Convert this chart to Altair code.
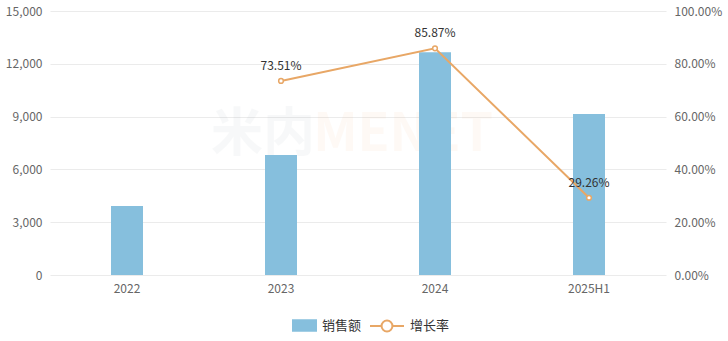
import altair as alt
import pandas as pd

years = ["2022", "2023", "2024", "2025H1"]
sales = [3920, 6820, 12660, 9150]
growth = [None, 0.7351, 0.8587, 0.2926]
growth_labels = ["", "73.51%", "85.87%", "29.26%"]

df = pd.DataFrame({"year": years, "sales": sales, "growth": growth, "glabel": growth_labels})
df["s_name"] = "销售额"
df["g_name"] = "增长率"

FONT = "Noto Sans CJK SC"
BLUE = "#86bfdd"
ORANGE = "#e8a766"

x = alt.X("year:N", sort=years, title=None,
          axis=alt.Axis(labelAngle=0, domain=False, ticks=False, labelPadding=8,
                        domainColor="transparent", gridColor="transparent",
                        labelColor="#666", labelFontSize=12, labelFont=FONT, grid=False))

bars = alt.Chart(df).mark_bar(size=32, color=BLUE).encode(
    x=x,
    y=alt.Y("sales:Q", title=None,
            scale=alt.Scale(domain=[0, 15000], nice=False),
            axis=alt.Axis(values=[0, 3000, 6000, 9000, 12000, 15000], format=",.0f",
                          domain=False, ticks=False, labelPadding=8,
                          domainColor="transparent",
                          labelColor="#666", labelFontSize=12, labelFont=FONT,
                          gridColor="#ebebeb", gridWidth=1)),
    fill=alt.Fill("s_name:N", title=None,
                  scale=alt.Scale(domain=["销售额"], range=[BLUE]),
                  legend=alt.Legend(orient="none", legendX=242, legendY=302,
                                    symbolType="M-1,-0.5L1,-0.5L1,0.5L-1,0.5Z",
                                    symbolSize=625, symbolStrokeWidth=0,
                                    labelFont=FONT, labelFontSize=13, labelColor="#333",
                                    labelOffset=5)),
)

gdf = df[df["growth"].notna()]

line = alt.Chart(gdf).mark_line(strokeWidth=2, color=ORANGE).encode(
    x=alt.X("year:N", sort=years),
    y=alt.Y("growth:Q", title=None,
            scale=alt.Scale(domain=[0, 1], nice=False),
            axis=alt.Axis(orient="right", values=[0, 0.2, 0.4, 0.6, 0.8, 1.0], format=".2%",
                          domain=False, ticks=False, labelPadding=8, grid=False,
                          domainColor="transparent",
                          labelColor="#666", labelFontSize=12, labelFont=FONT)),
    stroke=alt.Stroke("g_name:N", title=None,
                      scale=alt.Scale(domain=["增长率"], range=[ORANGE]),
                      legend=alt.Legend(orient="none", legendX=319, legendY=297,
                                        symbolType="M-1,0L-0.32,0M0.32,0L1,0M0.32,0A0.32,0.32 0 1,1 -0.32,0A0.32,0.32 0 1,1 0.32,0",
                                        symbolSize=1156, symbolStrokeWidth=2,
                                        symbolFillColor="white", symbolStrokeColor=ORANGE,
                                        labelFont=FONT, labelFontSize=13, labelColor="#333",
                                        labelOffset=5)),
)

pts = alt.Chart(gdf).mark_point(filled=True, fill="white", stroke=ORANGE,
                                strokeWidth=1.5, size=22, opacity=1).encode(
    x=alt.X("year:N", sort=years),
    y=alt.Y("growth:Q", scale=alt.Scale(domain=[0, 1], nice=False), axis=None),
)

labels = alt.Chart(gdf).mark_text(dy=-15, font=FONT, fontSize=12, color="#333").encode(
    x=alt.X("year:N", sort=years),
    y=alt.Y("growth:Q", scale=alt.Scale(domain=[0, 1], nice=False), axis=None),
    text="glabel:N",
)

wm1 = alt.Chart(pd.DataFrame({"t": ["米内"]})).mark_text(
    font=FONT, fontSize=52, fontWeight="bold", opacity=0.06, color="#8a9aa5"
).encode(x=alt.value(213), y=alt.value(124), text="t:N")
wm2 = alt.Chart(pd.DataFrame({"t": ["MENET"]})).mark_text(
    font=FONT, fontSize=52, fontWeight="bold", opacity=0.06, color="#f0a060"
).encode(x=alt.value(353), y=alt.value(124), text="t:N")

chart = alt.layer(
    wm1, wm2, bars, line, pts, labels,
).resolve_scale(y="independent", fill="independent", stroke="independent").properties(
    width=616, height=264,
    autosize=alt.AutoSizeParams(type="none"),
    padding={"left": 50, "top": 11, "right": 62, "bottom": 66},
).configure(
    background="white",
    view=alt.ViewConfig(stroke="transparent", strokeWidth=0),
    axis=alt.AxisConfig(domain=False, ticks=False, domainColor="transparent"),
    axisX=alt.AxisConfig(grid=False, domain=False, gridColor="transparent"),
    axisY=alt.AxisConfig(domain=False, domainOpacity=0),
    style={"cell": {"stroke": "transparent", "strokeWidth": 0}},
)

chart.save("out.html", embed_options={"renderer": "svg", "actions": False})
